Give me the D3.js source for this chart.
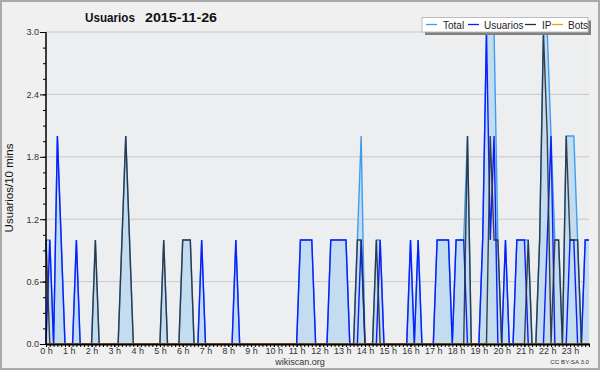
<!DOCTYPE html>
<html><head><meta charset="utf-8">
<script src="https://cdn.jsdelivr.net/npm/d3@7/dist/d3.min.js"></script>
<style>
body{margin:0;background:#f0f0f0}
svg{display:block}
text{font-family:"Liberation Sans",Arial,sans-serif}
</style>
</head><body>
<svg id="chart" width="600" height="370"></svg>
<script>
// ---- data (one value per 10-minute slot, 144 slots) ----
const hourLabels = ["0 h","1 h","2 h","3 h","4 h","5 h","6 h","7 h","8 h","9 h","10 h","11 h",
  "12 h","13 h","14 h","15 h","16 h","17 h","18 h","19 h","20 h","21 h","22 h","23 h"];
const total = [
  1,1,0,2,1,0,0,0,1,0,0,0,  0,1,0,0,0,0,0,0,1,2,1,0,
  0,0,0,0,0,0,0,1,0,0,0,0,  1,1,1,0,0,1,0,0,0,0,0,0,
  0,0,1,0,0,0,0,0,0,0,0,0,  0,0,0,0,0,0,0,1,1,1,1,0,
  0,0,0,1,1,1,1,1,0,0,1,2,  0,0,0,1,1,0,0,0,0,0,0,0,
  1,0,1,0,0,0,0,1,1,1,1,0,  1,1,1,2,0,0,0,1,3,3,3,1,
  0,1,0,0,1,1,1,1,0,0,1,3,  3,2,1,1,0,2,2,2,1,0,1,1];
const usuarios = [
  0,1,0,2,1,0,0,0,1,0,0,0,  0,0,0,0,0,0,0,0,0,0,0,0,
  0,0,0,0,0,0,0,0,0,0,0,0,  0,0,0,0,0,1,0,0,0,0,0,0,
  0,0,1,0,0,0,0,0,0,0,0,0,  0,0,0,0,0,0,0,1,1,1,1,0,
  0,0,0,1,1,1,1,1,0,0,0,1,  0,0,0,0,1,0,0,0,0,0,0,0,
  1,0,1,0,0,0,0,1,1,1,1,0,  1,1,1,0,0,0,0,1,3,1,2,0,
  0,1,0,0,1,1,1,0,0,0,0,0,  1,2,0,0,0,0,1,1,0,0,1,1];
const ip = [
  1,0,0,0,0,0,0,0,0,0,0,0,  0,1,0,0,0,0,0,0,1,2,1,0,
  0,0,0,0,0,0,0,1,0,0,0,0,  1,1,1,0,0,0,0,0,0,0,0,0,
  0,0,0,0,0,0,0,0,0,0,0,0,  0,0,0,0,0,0,0,0,0,0,0,0,
  0,0,0,0,0,0,0,0,0,0,1,1,  0,0,0,1,0,0,0,0,0,0,0,0,
  0,0,0,0,0,0,0,0,0,0,0,0,  0,0,0,2,0,0,0,0,0,2,1,1,
  0,0,0,0,0,0,0,1,0,0,1,3,  2,0,1,1,0,2,1,1,1,0,0,0];
const bots = [
  0,0,0,0,0,0,0,0,0,0,0,0,  0,0,0,0,0,0,0,0,0,0,0,0,
  0,0,0,0,0,0,0,0,0,0,0,0,  0,0,0,0,0,0,0,0,0,0,0,0,
  0,0,0,0,0,0,0,0,0,0,0,0,  0,0,0,0,0,0,0,0,0,0,0,0,
  0,0,0,0,0,0,0,0,0,0,0,0,  0,0,0,0,0,0,0,0,0,0,0,0,
  0,0,0,0,0,0,0,0,0,0,0,0,  0,0,0,0,0,0,0,0,0,0,0,0,
  0,0,0,0,0,0,0,0,0,0,0,0,  0,0,0,0,0,0,0,0,0,0,0,0];
const yTicks = [0, 0.6, 1.2, 1.8, 2.4, 3.0];
const seriesNames = ["Total","Usuarios","IP","Bots"];
const seriesColors = ["#3d9df2","#0a1eff","#2b2f35","#ff9c00"];

// ---- layout ----
const svg = d3.select("#chart");
const L = 46, R = 589, T = 32, B = 344;
const x = d3.scaleLinear().domain([0, 143]).range([L, R]);
const y = d3.scaleLinear().domain([0, 3]).range([B, T]);

svg.append("rect").attr("x",1).attr("y",1).attr("width",598).attr("height",368)
  .attr("fill","#f0f0f0").attr("stroke","#a9a9a9").attr("stroke-width",2);
svg.append("rect").attr("x",L).attr("y",T).attr("width",R-L).attr("height",B-T).attr("fill","#edeef0");

// grid
svg.append("g").selectAll("line").data(yTicks.filter(d=>d>0)).join("line")
  .attr("x1",L).attr("x2",R).attr("y1",d=>y(d)).attr("y2",d=>y(d))
  .attr("stroke","#c9c9c9").attr("stroke-width",1);

// area + lines
const idx = d3.range(total.length);
svg.append("path").datum(idx)
  .attr("d", d3.area().x(i=>x(i)).y0(y(0)).y1(i=>y(total[i])))
  .attr("fill","#c4dcf0");
const line = arr => d3.line().x(i=>x(i)).y(i=>y(arr[i]));
[[total,0],[usuarios,1],[ip,2],[bots,3]].forEach(([arr,k])=>{
  svg.append("path").datum(idx).attr("d", line(arr)(idx))
    .attr("fill","none").attr("stroke",seriesColors[k]).attr("stroke-width",1.4)
    .attr("stroke-linejoin","miter").attr("opacity", k===2?0.9:1);
});

// x axis
const xMinor = svg.append("g").attr("transform",`translate(0,${B})`)
  .call(d3.axisBottom(x).tickValues(d3.range(0,144)).tickSize(3).tickFormat(""));
xMinor.select(".domain").remove();
xMinor.selectAll("line").attr("stroke","#000");
const xAx = svg.append("g").attr("transform",`translate(0,${B})`)
  .call(d3.axisBottom(x).tickValues(d3.range(0,144,6)).tickSize(3).tickPadding(1)
    .tickFormat(i=>hourLabels[i/6]));
xAx.select(".domain").attr("stroke","#000").attr("stroke-width",2).attr("d",`M${L},0.5H${R+1}`);
xAx.selectAll("line").attr("stroke","#000");
xAx.selectAll("text").attr("font-size",9).attr("fill","#333").attr("font-family","Liberation Sans, Arial, sans-serif");

// y axis
const yMinor = svg.append("g").attr("transform",`translate(${L},0)`)
  .call(d3.axisLeft(y).tickValues(d3.range(0,3.01,0.15)).tickSize(3).tickFormat(""));
yMinor.select(".domain").remove();
yMinor.selectAll("line").attr("stroke","#000");
const yAx = svg.append("g").attr("transform",`translate(${L},0)`)
  .call(d3.axisLeft(y).tickValues(yTicks).tickSize(6).tickPadding(1).tickFormat(d3.format(".1f")));
yAx.select(".domain").attr("stroke","#000").attr("stroke-width",1.5).attr("d",`M0,${T}V${B}`);
yAx.selectAll("line").attr("stroke","#000");
yAx.selectAll("text").attr("font-size",9).attr("fill","#333").attr("font-family","Liberation Sans, Arial, sans-serif");

// titles
svg.append("text").attr("x",85).attr("y",22).attr("font-size",13.5).attr("font-weight","bold")
  .attr("fill","#111").attr("textLength",50).attr("lengthAdjust","spacingAndGlyphs").text("Usuarios");
svg.append("text").attr("x",145).attr("y",22).attr("font-size",13.5).attr("font-weight","bold")
  .attr("fill","#111").attr("textLength",72).attr("lengthAdjust","spacingAndGlyphs").text("2015-11-26");
svg.append("text").attr("transform","translate(13,188) rotate(-90)").attr("text-anchor","middle")
  .attr("font-size",11.5).attr("fill","#111").text("Usuarios/10 mins");
svg.append("text").attr("x",300).attr("y",365).attr("text-anchor","middle")
  .attr("font-size",9).attr("fill","#333").text("wikiscan.org");
svg.append("text").attr("x",589).attr("y",364).attr("text-anchor","end")
  .attr("font-size",6.2).attr("fill","#333").text("CC BY-SA 3.0");

// legend
const lg = svg.append("g");
lg.append("rect").attr("x",425).attr("y",20.5).attr("width",166).attr("height",14.5).attr("fill","#808080");
lg.append("rect").attr("x",422).attr("y",17.5).attr("width",166).attr("height",14.5)
  .attr("fill","#fff").attr("stroke","#bdbdbd").attr("stroke-width",1);
const swX = [426, 468, 525, 552], txX = [443, 484, 542, 568];
seriesNames.forEach((n,k)=>{
  lg.append("line").attr("x1",swX[k]).attr("x2",swX[k]+11).attr("y1",24.5).attr("y2",24.5)
    .attr("stroke",seriesColors[k]).attr("stroke-width",1.3);
  lg.append("text").attr("x",txX[k]).attr("y",28.5).attr("font-size",10).attr("fill","#222").text(n);
});
</script>
</body></html>
